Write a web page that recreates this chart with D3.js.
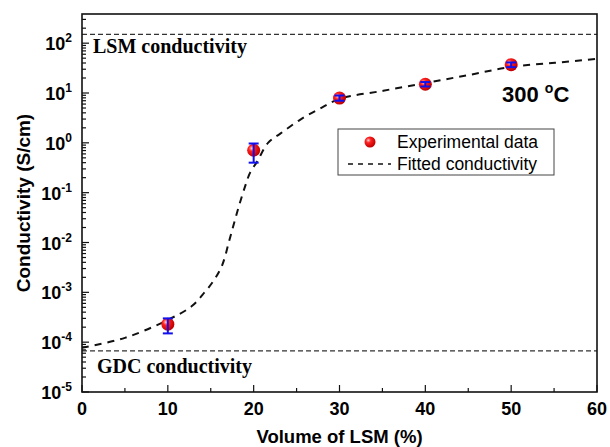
<!DOCTYPE html>
<html>
<head>
<meta charset="utf-8">
<script src="https://cdn.jsdelivr.net/npm/d3@7"></script>
<style>
body{margin:0;background:#fff;}
svg text{font-family:Arial,"Liberation Sans",sans-serif;}
</style>
</head>
<body>
<div class="canvas"></div>
<script>
// measured points, volume % and conductivity S/cm
var volume = [10, 20, 30, 40, 50];
var sigma = [2.3e-4, 0.71, 7.9, 15, 37];
var errLow = [1.5e-4, 0.40, 7.0, 13.5, 33];
var errHigh = [3.0e-4, 0.97, 8.9, 16.6, 41];

// fitted curve
var fitX = [0, 5, 10, 12.8, 14.3, 15.3, 16.3, 17.2, 18.1, 19.0, 19.6, 20.4, 21.7, 23.1, 25.4, 27.7, 30.1, 35.1, 40.2, 45.2, 50.1, 55.1, 60];
var fitY = [7.7e-5, 1.22e-4, 2.8e-4, 5.3e-4, 1.01e-3, 1.68e-3, 3.4e-3, 1.16e-2, 4.2e-2, 0.134, 0.255, 0.42, 1.01, 1.53, 2.9, 4.85, 7.7, 11.1, 16.1, 23.2, 33.6, 40.4, 48.5];

var lsmLevel = 150, gdcLevel = 6.7e-5;
var xTicks = [0, 10, 20, 30, 40, 50, 60];
var yExp = [-5, -4, -3, -2, -1, 0, 1, 2];

var margin = {t:14,r:13,b:55,l:82};
var W = 610, H = 447;
var width = W - margin.l - margin.r,
    height = H - margin.t - margin.b;

var svg = d3.select('.canvas').append('svg')
    .attr('width',W).attr('height',H);

var defs = svg.append('defs');
var grad = defs.append('radialGradient').attr('id','ball')
    .attr('cx','35%').attr('cy','35%').attr('r','65%');
grad.append('stop').attr('offset','0%').attr('stop-color','#ffd0d0');
grad.append('stop').attr('offset','35%').attr('stop-color','#ff2020');
grad.append('stop').attr('offset','100%').attr('stop-color','#c00000');

var plot = svg.append('g')
    .attr('transform','translate('+margin.l+','+margin.t+')');

var x = d3.scaleLinear().domain([0,60]).range([0,width]);
var y = d3.scaleLog().domain([1e-5, 385]).range([height,0]);

// reference lines
[lsmLevel, gdcLevel].forEach(function(v){
    plot.append('line')
        .attr('x1',0).attr('x2',width)
        .attr('y1',y(v)).attr('y2',y(v))
        .style('stroke','#333').style('stroke-width',1.2)
        .style('stroke-dasharray','5,3');
});

plot.append('text').attr('x',11).attr('y',y(lsmLevel)+19)
    .style('font-family','"Liberation Serif","Times New Roman",serif')
    .style('font-weight','bold').style('font-size','20px')
    .text('LSM conductivity');
plot.append('text').attr('x',15).attr('y',y(gdcLevel)+22)
    .style('font-family','"Liberation Serif","Times New Roman",serif')
    .style('font-weight','bold').style('font-size','20px')
    .text('GDC conductivity');

// fitted curve
var fit = fitX.map(function(d,i){ return [d, fitY[i]]; });
var line = d3.line()
    .x(function(d){ return x(d[0]); })
    .y(function(d){ return y(d[1]); })
    .curve(d3.curveCatmullRom.alpha(0.5));
plot.append('path').datum(fit)
    .attr('d',line)
    .style('fill','none').style('stroke','#111')
    .style('stroke-width',2).style('stroke-dasharray','7,6');

// points + error bars
volume.forEach(function(v,i){
    var cx = x(v);
    plot.append('circle')
        .attr('cx',cx).attr('cy',y(sigma[i])).attr('r',6.5)
        .style('fill','url(#ball)');
    var eb = plot.append('g').style('stroke','#1010ee').style('stroke-width',2);
    eb.append('line').attr('x1',cx).attr('x2',cx)
        .attr('y1',y(errLow[i])).attr('y2',y(errHigh[i]));
    [errLow[i], errHigh[i]].forEach(function(e){
        eb.append('line').attr('x1',cx-5).attr('x2',cx+5)
            .attr('y1',y(e)).attr('y2',y(e));
    });
});

// axes: ticks pointing inward
var minor = [];
for(var k=-5;k<=2;k++){
    for(var m=1;m<=9;m++){
        var v = m*Math.pow(10,k);
        if(v<=385) minor.push(v);
    }
}
var yAxis = plot.append('g');
yAxis.selectAll('line.t').data(minor).enter().append('line')
    .attr('x1',0)
    .attr('x2',function(d){ var l=Math.log10(d); return Math.abs(l-Math.round(l))<1e-9 ? 7 : 4; })
    .attr('y1',function(d){ return y(d); }).attr('y2',function(d){ return y(d); })
    .style('stroke','#111').style('stroke-width',1.2);

var yLab = plot.append('g').selectAll('text').data(yExp).enter().append('text')
    .attr('x',-10).attr('y',function(d){ return y(Math.pow(10,d))+7; })
    .attr('text-anchor','end')
    .style('font-weight','bold').style('font-size','18px');
yLab.append('tspan').text('10');
yLab.append('tspan').attr('dy',-8).style('font-size','12px')
    .text(function(d){ return d; });

var xMinor = d3.range(0,61,5);
plot.append('g').selectAll('line').data(xMinor).enter().append('line')
    .attr('x1',function(d){ return x(d); }).attr('x2',function(d){ return x(d); })
    .attr('y1',height)
    .attr('y2',function(d){ return d%10===0 ? height-7 : height-4; })
    .style('stroke','#111').style('stroke-width',1.2);

plot.append('g').selectAll('text').data(xTicks).enter().append('text')
    .attr('x',function(d){ return x(d); }).attr('y',height+23)
    .attr('text-anchor','middle')
    .style('font-weight','bold').style('font-size','18px')
    .text(function(d){ return d; });

// frame
plot.append('rect').attr('width',width).attr('height',height)
    .style('fill','none').style('stroke','#111').style('stroke-width',1.6);

// titles
svg.append('text')
    .attr('x',margin.l+width/2).attr('y',443)
    .attr('text-anchor','middle')
    .style('font-weight','bold').style('font-size','18.5px')
    .text('Volume of LSM (%)');
svg.append('text')
    .attr('transform','translate(30,'+(margin.t+height/2)+') rotate(-90)')
    .attr('text-anchor','middle')
    .style('font-weight','bold').style('font-size','19px')
    .text('Conductivity (S/cm)');

var temp = plot.append('text').attr('x',420).attr('y',88)
    .style('font-weight','bold').style('font-size','22px');
temp.append('tspan').text('300 ');
temp.append('tspan').attr('dy',-9).style('font-size','14px').text('o');
temp.append('tspan').attr('dy',9).text('C');

// legend
var lg = plot.append('g').attr('transform','translate(256,115)');
lg.append('rect').attr('width',216).attr('height',46)
    .style('fill','#fff').style('stroke','#444').style('stroke-width',1);
lg.append('circle').attr('cx',32).attr('cy',13).attr('r',5.5).style('fill','url(#ball)');
lg.append('line').attr('x1',10).attr('x2',53).attr('y1',35).attr('y2',35)
    .style('stroke','#111').style('stroke-width',1.5).style('stroke-dasharray','5,5');
lg.append('text').attr('x',59).attr('y',19).style('font-size','17.5px').text('Experimental data');
lg.append('text').attr('x',59).attr('y',41).style('font-size','17.5px').text('Fitted conductivity');
</script>
</body>
</html>
